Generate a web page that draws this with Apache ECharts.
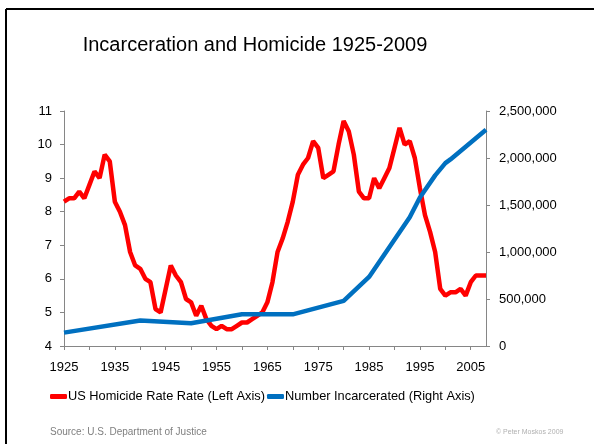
<!DOCTYPE html>
<html lang="en">
<head>
    <meta charset="UTF-8">
    <title>Incarceration and Homicide 1925-2009</title>
    <script src="https://cdn.jsdelivr.net/npm/echarts@6/dist/echarts.min.js"></script>
    <style>
        html, body { margin: 0; padding: 0; background: #fff; }
        #main { width: 594px; height: 444px; }
    </style>
</head>
<body>
    <div id="main"></div>

    <script>
        // years 1925..2008
        var years = [];
        for (var y = 1925; y <= 2008; y++) years.push(String(y));

        // homicide rate per 100,000 (left axis)
        var homicide = [
            8.3, 8.4, 8.4, 8.6, 8.4, 8.8, 9.2, 9.0, 9.7, 9.5,   // 1925-1934
            8.3, 8.0, 7.6, 6.8, 6.4, 6.3, 6.0, 5.9, 5.1, 5.0,   // 1935-1944
            5.7, 6.4, 6.1, 5.9, 5.4, 5.3, 4.9, 5.2, 4.8, 4.6,   // 1945-1954
            4.5, 4.6, 4.5, 4.5, 4.6, 4.7, 4.7, 4.8, 4.9, 5.0,   // 1955-1964
            5.3, 5.9, 6.8, 7.2, 7.7, 8.3, 9.1, 9.4, 9.6, 10.1,  // 1965-1974
            9.9, 9.0, 9.1, 9.2, 10.0, 10.7, 10.4, 9.7, 8.6, 8.4, // 1975-1984
            8.4, 9.0, 8.7, 9.0, 9.3, 9.9, 10.5, 10.0, 10.1, 9.6, // 1985-1994
            8.7, 7.9, 7.4, 6.8, 5.7, 5.5, 5.6, 5.6, 5.7, 5.5,   // 1995-2004
            5.9, 6.1, 6.1, 6.1                                  // 2005-2008
        ];

        // number incarcerated (right axis), only the years shown as points
        var prisonYears = ['1925', '1940', '1950', '1960', '1970', '1980', '1985', '1993', '1995', '1998', '2000', '2001', '2008'];
        var prisonCount = [142000, 272000, 242000, 337000, 337000, 480000, 735000, 1370000, 1580000, 1815000, 1945000, 1985000, 2300000];

        var leftTicks = { min: 4, max: 11, step: 1 };
        var rightTicks = { min: 0, max: 2500000, step: 500000 };

        var prisonSeries = years.map(function (yr) {
            var i = prisonYears.indexOf(yr);
            return i >= 0 ? prisonCount[i] : null;
        });

        var myChart = echarts.init(document.getElementById('main'));

        var axisGrey = '#868686';
        var font = 'Liberation Sans, Arial, sans-serif';

        var option = {
            backgroundColor: '#fff',
            animation: false,
            textStyle: { fontFamily: font },
            title: {
                text: 'Incarceration and Homicide 1925-2009',
                left: 250,
                textAlign: 'center',
                top: 30,
                textStyle: { fontSize: 20, fontWeight: 'normal', color: '#000', fontFamily: font }
            },
            legend: {
                left: 50,
                top: 390,
                padding: 0,
                icon: 'roundRect',
                itemWidth: 17,
                itemHeight: 5,
                itemGap: 2,
                textStyle: { fontSize: 12.8, color: '#000', padding: [0, 0, 0, -4] },
                data: ['US Homicide Rate Rate (Left Axis)', 'Number Incarcerated (Right Axis)']
            },
            grid: { left: 64, right: 108, top: 111, bottom: 98 },
            xAxis: {
                type: 'category',
                data: years,
                boundaryGap: false,
                axisLine: { lineStyle: { color: axisGrey } },
                axisTick: { interval: 4, length: 4, lineStyle: { color: axisGrey } },
                axisLabel: { interval: 9, color: '#000', fontSize: 13, margin: 15 },
                splitLine: { show: false }
            },
            yAxis: [
                {
                    type: 'value',
                    min: leftTicks.min,
                    max: leftTicks.max,
                    interval: leftTicks.step,
                    axisLine: { show: true, lineStyle: { color: axisGrey } },
                    axisTick: { show: true, length: 4, lineStyle: { color: axisGrey } },
                    axisLabel: { color: '#000', fontSize: 13, margin: 12 },
                    splitLine: { show: false }
                },
                {
                    type: 'value',
                    min: rightTicks.min,
                    max: rightTicks.max,
                    interval: rightTicks.step,
                    position: 'right',
                    axisLine: { show: true, lineStyle: { color: axisGrey } },
                    axisTick: { show: true, length: 4, lineStyle: { color: axisGrey } },
                    axisLabel: {
                        color: '#000', fontSize: 13, margin: 13,
                        formatter: function (v) { return v.toLocaleString('en-US'); }
                    },
                    splitLine: { show: false }
                }
            ],
            series: [
                {
                    name: 'US Homicide Rate Rate (Left Axis)',
                    type: 'line',
                    yAxisIndex: 0,
                    data: homicide,
                    showSymbol: false,
                    color: '#FF0000',
                    lineStyle: { width: 4.5, color: '#FF0000' },
                    z: 2
                },
                {
                    name: 'Number Incarcerated (Right Axis)',
                    type: 'line',
                    yAxisIndex: 1,
                    data: prisonSeries,
                    connectNulls: true,
                    showSymbol: false,
                    color: '#0070C0',
                    lineStyle: { width: 4.5, color: '#0070C0' },
                    z: 3
                }
            ],
            graphic: [
                // slide frame
                { type: 'line', shape: { x1: 6, y1: 9, x2: 594, y2: 9 }, style: { stroke: '#000', lineWidth: 2 } },
                { type: 'line', shape: { x1: 6, y1: 9, x2: 6, y2: 444 }, style: { stroke: '#000', lineWidth: 2 } },
                {
                    type: 'text', left: 50, top: 427,
                    style: { text: 'Source: U.S. Department of Justice', fill: '#7f7f7f', fontSize: 10, fontFamily: font }
                },
                {
                    type: 'text', left: 496, top: 429,
                    style: { text: '\u00A9 Peter Moskos 2009', fill: '#b0b0b0', fontSize: 7, fontFamily: font }
                }
            ]
        };

        myChart.setOption(option);
    </script>
</body>
</html>
